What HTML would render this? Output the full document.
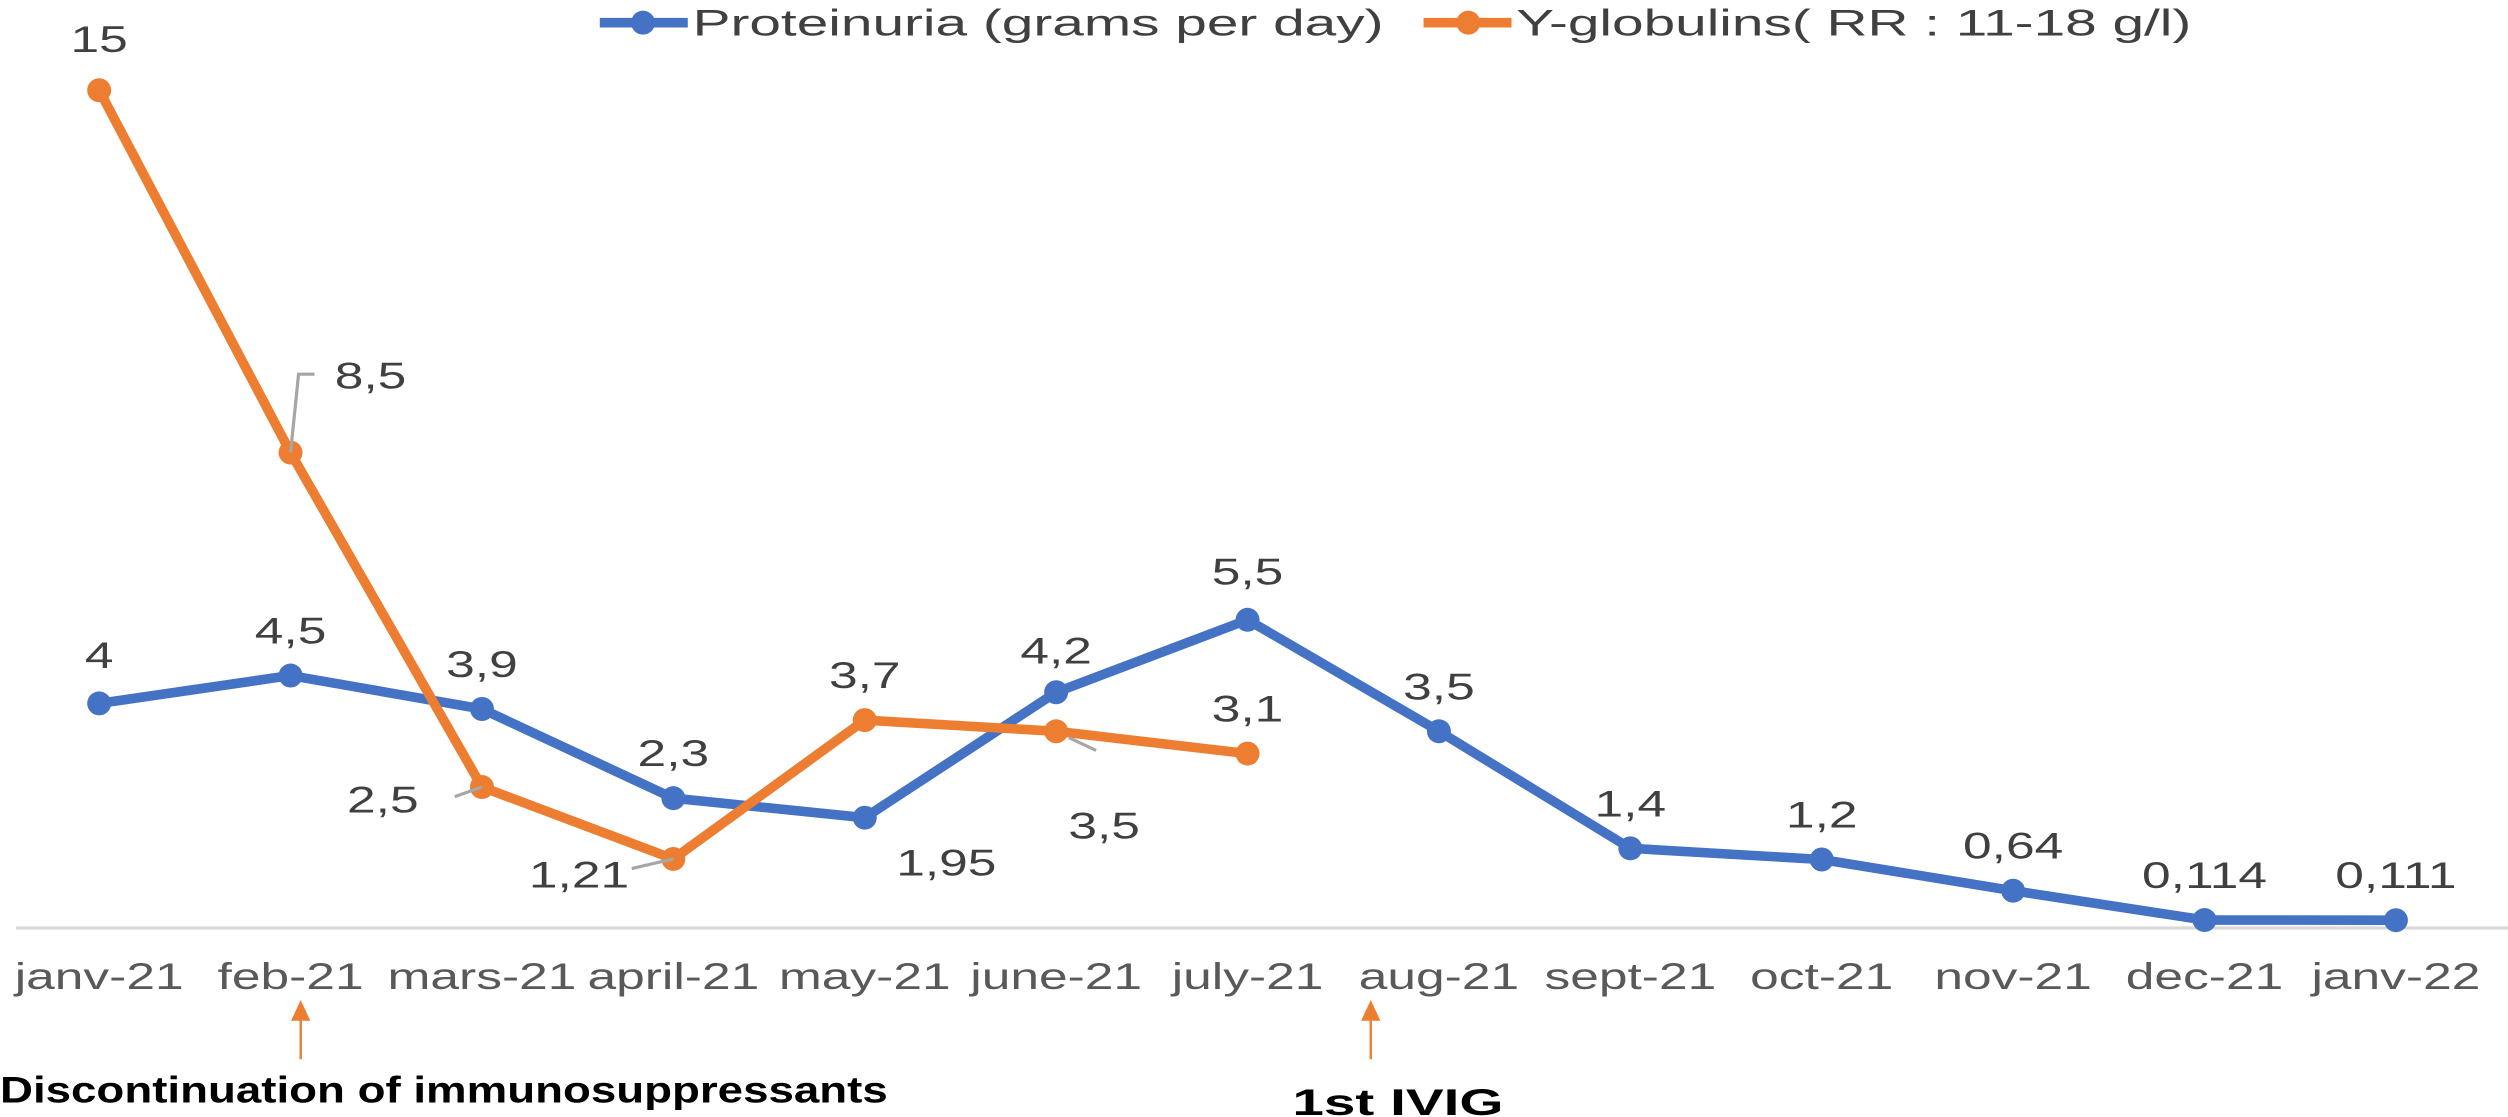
<!DOCTYPE html>
<html><head><meta charset="utf-8"><style>
html,body{margin:0;padding:0;background:#fff;}
svg{display:block;}
text{font-family:"Liberation Sans",sans-serif;}
</style></head><body>
<svg id="chart" width="2508" height="1117" viewBox="0 0 1568 698" xmlns="http://www.w3.org/2000/svg">
<rect width="1568" height="698" fill="#fff"/>
<line x1="10" y1="580" x2="1575" y2="580" stroke="#d9d9d9" stroke-width="2"/>
<g id="legend">
  <g>
    <line x1="375" y1="14" x2="430" y2="14" stroke="#4472c4" stroke-width="6"/>
    <circle cx="402" cy="14" r="7.5" fill="#4472c4"/>
    <text x="433" y="22" font-size="23" fill="#404040" textLength="432" lengthAdjust="spacingAndGlyphs">Proteinuria (grams per day)</text>
  </g>
  <g>
    <line x1="890" y1="14" x2="945" y2="14" stroke="#ed7d31" stroke-width="6"/>
    <circle cx="918" cy="14" r="7.5" fill="#ed7d31"/>
    <text x="948" y="22" font-size="23" fill="#404040" textLength="422" lengthAdjust="spacingAndGlyphs">Y-globulins( RR : 11-18 g/l)</text>
  </g>
</g>
<g id="xlabels"></g>
<g id="series"></g>
<g>
  <line x1="188" y1="662" x2="188" y2="636" stroke="#ed7d31" stroke-width="1.5"/>
  <polygon points="182,638 194,638 188,625" fill="#ed7d31"/>
  <text x="0" y="689" font-size="23" font-weight="bold" fill="#000" textLength="555" lengthAdjust="spacingAndGlyphs">Discontinuation of immunosuppressants</text>
</g>
<g>
  <line x1="857" y1="662" x2="857" y2="636" stroke="#ed7d31" stroke-width="1.5"/>
  <polygon points="851,638 863,638 857,625" fill="#ed7d31"/>
  <text x="808" y="697" font-size="23" font-weight="bold" fill="#000" textLength="132" lengthAdjust="spacingAndGlyphs">1st IVIG</text>
</g>
</svg>
<script>
const categories = ["janv-21","feb-21","mars-21","april-21","may-21","june-21","july-21","aug-21","sept-21","oct-21","nov-21","dec-21","janv-22"];
const proteinuria = [4, 4.5, 3.9, 2.3, 1.95, 4.2, 5.5, 3.5, 1.4, 1.2, 0.64, 0.114, 0.111];
const proteinuriaLabels = ["4","4,5","3,9","2,3","1,95","4,2","5,5","3,5","1,4","1,2","0,64","0,114","0,111"];
const globulins = [15, 8.5, 2.5, 1.21, 3.7, 3.5, 3.1];
const globulinLabels = ["15","8,5","2,5","1,21","3,7","3,5","3,1"];
// label offsets (style, not data)
const pOff = [[0,-22],[0,-20],[0,-20],[0,-20],[51,36],[0,-18],[0,-22],[0,-20],[0,-20],[0,-20],[0,-20],[0,-20],[0,-20]];
const gOff = [[0,-24],[50,-40],[-62,16],[-59,18],[0,-20],[30,67],[0,-20]];
const gLeader = [null,[[0,0],[5,-49],[15,-49]],[[0,0],[-17,6]],[[0,0],[-26,6]],null,[[8,4],[25,12]],null];

const NS="http://www.w3.org/2000/svg";
const x0=62, step=119.66, zeroY=579, perUnit=34.85;
function xs(i){return x0+i*step;}
function ys(v){return zeroY-v*perUnit;}
function mk(tag,attrs,parent){const e=document.createElementNS(NS,tag);for(const k in attrs)e.setAttribute(k,attrs[k]);parent.appendChild(e);return e;}
function stext(parent,x,y,str,fill){
  const t=mk('text',{x:0,y:0,transform:'translate('+x+','+y+') scale(1.4,1)','font-size':23,'text-anchor':'middle',fill:fill},parent);
  t.textContent=str;
  return t;
}

const xl=document.getElementById('xlabels');
categories.forEach((c,i)=>{
  const t=stext(xl,xs(i),618,c,'#595959');
  
  
});

const g=document.getElementById('series');
function drawSeries(vals,labels,off,color,name,leaders){
  const sg=mk('g',{},g);
  
  
  const pts=vals.map((v,i)=>xs(i)+','+ys(v)).join(' ');
  const pl=mk('polyline',{points:pts,fill:'none',stroke:color,'stroke-width':6,'stroke-linejoin':'round'},sg);
  
  
  vals.forEach((v,i)=>{
    const c=mk('circle',{cx:xs(i),cy:ys(v),r:7.5,fill:color},sg);
    
    
    if(leaders&&leaders[i]){
      const lp=leaders[i].map(p=>(xs(i)+p[0])+','+(ys(v)+p[1])).join(' ');
      const l=mk('polyline',{points:lp,fill:'none',stroke:'#a6a6a6','stroke-width':2},sg);
      
      
    }
    const t=stext(sg,xs(i)+off[i][0],ys(v)+off[i][1],labels[i],'#404040');
    
    
  });
}
drawSeries(proteinuria,proteinuriaLabels,pOff,'#4472c4','proteinuria',null);
drawSeries(globulins,globulinLabels,gOff,'#ed7d31','y-globulins',gLeader);
</script>
</body></html>
